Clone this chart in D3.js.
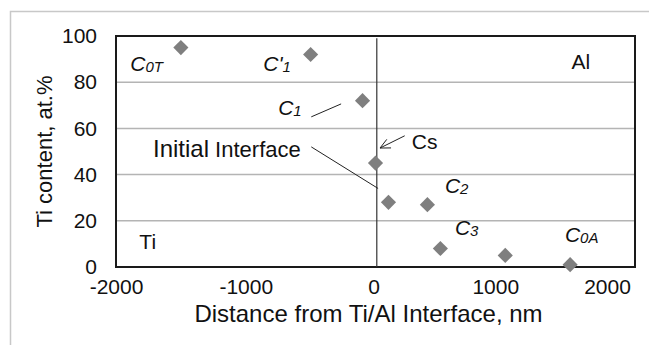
<!DOCTYPE html>
<html>
<head>
<meta charset="utf-8">
<script src="https://cdn.jsdelivr.net/npm/d3@7"></script>
<style>
  body { margin: 0; background: #fff; }
  svg { display: block; font-family: "Liberation Sans", Arial, sans-serif; }
</style>
</head>
<body>
<div id="chart"></div>
<script>
// measured points (distance nm, Ti at.%)
const distances = [-1500, -500, -100, 0, 100, 400, 500, 1000, 1500];
const tiContent = [95, 92, 72, 45, 28, 27, 8, 5, 1];
const xTicks = [-2000, -1000, 0, 1000, 2000];
const yTicks = [0, 20, 40, 60, 80, 100];

// labels placed in data coordinates
const labelText = ['C', "C'", 'C', 'Initial', 'Cs', 'Al', 'Ti', 'C', 'C', 'C'];
const labelSub  = ['0T', '1', '1', '', '', '', '', '2', '3', '0A'];
const labelX    = [-1890, -865, -750, -1715, 280, 1510, -1820, 535, 612, 1460];
const labelY    = [85, 85, 66, 47.5, 51, 85.5, 8, 32, 14, 11];
const labelItalic = [true, true, true, false, false, false, false, true, true, true];

const width = 649;
const height = 345;
const margin = { top: 36, right: 14, bottom: 78, left: 116 };

const svg = d3.select('#chart').append('svg')
  .attr('width', width)
  .attr('height', height);

// outer light frame
svg.append('rect')
  .attr('x', 10.5).attr('y', 11.5)
  .attr('width', 700).attr('height', 400)
  .attr('fill', 'none')
  .attr('stroke', '#c8c8c8')
  .attr('stroke-width', 1.5);

const x = d3.scaleLinear().domain([-2000, 2000]).range([margin.left, width - margin.right]);
const y = d3.scaleLinear().domain([0, 100]).range([height - margin.bottom, margin.top]);

// grid lines
svg.append('g')
  .selectAll('line')
  .data(yTicks.filter(d => d > 0 && d < 100))
  .enter().append('line')
  .attr('x1', x(-2000)).attr('x2', x(2000))
  .attr('y1', d => y(d)).attr('y2', d => y(d))
  .attr('stroke', '#b4b4b4')
  .attr('stroke-width', 1.5);

// axes (labels only)
const xAxis = svg.append('g')
  .attr('transform', `translate(0,${y(0)})`)
  .call(d3.axisBottom(x).tickValues(xTicks).tickSize(0).tickPadding(12).tickFormat(d => String(d)));
xAxis.select('.domain').remove();
xAxis.selectAll('text')
  .attr('dy', '0.71em')
  .style('font-size', '21px')
  .attr('fill', '#111')
  .attr('dx', d => d === 2000 ? -28 : d === 1000 ? -10 : d === 0 ? -2 : 0);

const yAxis = svg.append('g')
  .attr('transform', `translate(${x(-2000)},0)`)
  .call(d3.axisLeft(y).tickValues(yTicks).tickSize(0).tickPadding(19));
yAxis.select('.domain').remove();
yAxis.selectAll('text')
  .style('font-size', '21px')
  .attr('fill', '#111');

// plot frame
svg.append('rect')
  .attr('x', x(-2000)).attr('y', y(100))
  .attr('width', x(2000) - x(-2000)).attr('height', y(0) - y(100))
  .attr('fill', 'none')
  .attr('stroke', '#1a1a1a')
  .attr('stroke-width', 2);

// initial interface line
svg.append('line')
  .attr('x1', x(10)).attr('x2', x(10))
  .attr('y1', y(99)).attr('y2', y(0))
  .attr('stroke', '#333')
  .attr('stroke-width', 1.2);

// leader lines
const leaders = [
  { x1: -495, y1: 65, x2: -265, y2: 70.6 },
  { x1: -495, y1: 52, x2: 20, y2: 34 },
  { x1: 225, y1: 56.8, x2: 35, y2: 51.5 }
];
svg.append('g')
  .selectAll('line')
  .data(leaders)
  .enter().append('line')
  .attr('x1', d => x(d.x1)).attr('y1', d => y(d.y1))
  .attr('x2', d => x(d.x2)).attr('y2', d => y(d.y2))
  .attr('stroke', '#222')
  .attr('stroke-width', 1);

// open arrow head for Cs
const ax = x(35), ay = y(51.5);
const ang = Math.atan2(y(56.8) - ay, x(225) - ax);
svg.append('path')
  .attr('d', d3.line()([
    [ax + 11 * Math.cos(ang - 0.45), ay + 11 * Math.sin(ang - 0.45)],
    [ax, ay],
    [ax + 11 * Math.cos(ang + 0.45), ay + 11 * Math.sin(ang + 0.45)]
  ]))
  .attr('fill', 'none')
  .attr('stroke', '#222')
  .attr('stroke-width', 1);

// diamonds
const pts = distances.map((d, i) => ({ x: d, y: tiContent[i] }));
svg.append('g')
  .selectAll('path')
  .data(pts)
  .enter().append('path')
  .attr('d', d3.symbol(d3.symbolSquare, 115))
  .attr('transform', d => `translate(${x(d.x)},${y(d.y)}) rotate(45)`)
  .attr('fill', '#7f7f7f');

// text labels
const lbl = svg.append('g').selectAll('text')
  .data(labelText.map((t, i) => ({ t, s: labelSub[i], x: labelX[i], y: labelY[i], it: labelItalic[i] })))
  .enter().append('text')
  .attr('x', d => x(d.x))
  .attr('y', d => y(d.y))
  .attr('fill', '#111')
  .style('font-size', d => d.t === 'Initial' ? '24px' : '21px')
  .style('font-style', d => d.it ? 'italic' : 'normal');
lbl.append('tspan').text(d => d.t);
lbl.filter(d => d.s).append('tspan')
  .attr('dy', 1)
  .style('font-size', '15px')
  .text(d => d.s);
lbl.filter(d => d.t === 'Initial').append('tspan')
  .style('font-size', '22px')
  .text(' Interface');

// axis titles
svg.append('text')
  .attr('x', (x(-2000) + x(2000)) / 2 - 7)
  .attr('y', 322)
  .attr('text-anchor', 'middle')
  .style('font-size', '24px')
  .attr('fill', '#111')
  .text('Distance from Ti/Al Interface, nm');

svg.append('text')
  .attr('transform', `translate(52,${(y(0) + y(100)) / 2}) rotate(-90)`)
  .attr('text-anchor', 'middle')
  .style('font-size', '22px')
  .attr('fill', '#111')
  .text('Ti content, at.%');
</script>
</body>
</html>
